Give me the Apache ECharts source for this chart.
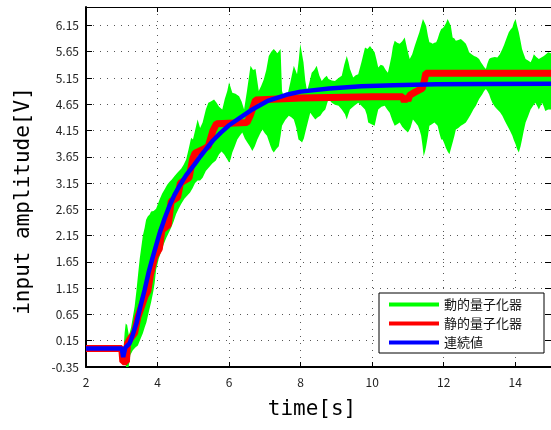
<!DOCTYPE html>
<html>
<head>
<meta charset="utf-8">
<script src="https://cdn.jsdelivr.net/npm/echarts@6/dist/echarts.min.js"></script>
<style>
html,body{margin:0;padding:0;background:#fff;}
#chart{width:551px;height:430px;}
</style>
</head>
<body>
<div id="chart"></div>
<script>
// 軸の目盛り
var xTicks = {min: 2, max: 15, step: 2};
var yTicks = {min: -0.35, max: 6.5, step: 0.5};
var seriesNames = ['動的量子化器', '静的量子化器', '連続値'];

// 動的量子化器: 振動の上側・下側の包絡 [t, v]
var greenUpper = [[3.05,0.0],[3.08,0.3],[3.11,0.48],[3.15,0.45],[3.20,0.25],[3.26,0.4],[3.31,0.6],[3.36,0.8],[3.41,1.1],[3.45,1.37],[3.50,1.7],[3.55,1.95],[3.59,2.15],[3.64,2.3],[3.68,2.45],[3.73,2.52],[3.78,2.55],[3.82,2.61],[3.89,2.62],[3.96,2.66],[4.01,2.75],[4.06,2.84],[4.13,2.95],[4.20,3.03],[4.27,3.12],[4.33,3.17],[4.40,3.22],[4.47,3.28],[4.56,3.35],[4.66,3.42],[4.73,3.5],[4.80,3.6],[4.87,3.8],[4.94,4.01],[4.99,3.98],[5.05,4.15],[5.12,4.36],[5.19,4.2],[5.26,4.3],[5.35,4.55],[5.42,4.68],[5.49,4.7],[5.58,4.74],[5.65,4.68],[5.72,4.6],[5.81,4.55],[5.88,4.75],[5.95,4.9],[6.00,5.07],[6.09,4.87],[6.18,4.85],[6.28,4.8],[6.35,4.7],[6.42,4.55],[6.50,4.9],[6.60,5.38],[6.67,5.3],[6.74,5.32],[6.83,4.9],[6.90,5.0],[6.97,5.12],[7.04,5.3],[7.11,5.57],[7.18,5.65],[7.25,5.7],[7.35,5.62],[7.44,5.7],[7.48,4.9],[7.57,4.7],[7.64,4.85],[7.71,5.06],[7.81,5.38],[7.90,5.22],[7.95,5.5],[7.99,5.8],[8.04,5.6],[8.08,5.45],[8.13,5.1],[8.18,4.9],[8.24,5.05],[8.31,5.25],[8.38,5.3],[8.45,5.38],[8.52,5.2],[8.59,5.09],[8.66,5.15],[8.73,5.19],[8.78,5.13],[8.87,5.1],[8.96,5.09],[9.06,5.15],[9.15,5.19],[9.22,5.4],[9.29,5.57],[9.34,5.45],[9.38,5.32],[9.47,5.16],[9.54,5.2],[9.61,5.22],[9.70,5.45],[9.80,5.73],[9.87,5.7],[9.94,5.76],[10.00,5.7],[10.07,5.64],[10.12,5.5],[10.17,5.35],[10.24,5.4],[10.31,5.38],[10.38,5.3],[10.44,5.25],[10.49,5.4],[10.54,5.57],[10.58,5.75],[10.63,5.86],[10.70,5.82],[10.77,5.8],[10.84,5.85],[10.91,5.92],[10.98,5.7],[11.05,5.51],[11.12,5.6],[11.19,5.76],[11.26,5.9],[11.32,6.02],[11.37,6.15],[11.42,6.27],[11.47,6.2],[11.51,6.14],[11.56,5.95],[11.60,5.83],[11.65,5.82],[11.69,5.8],[11.74,5.82],[11.79,5.83],[11.83,5.89],[11.88,6.0],[11.93,6.08],[11.98,6.1],[12.02,6.14],[12.07,6.2],[12.11,6.27],[12.16,6.2],[12.20,6.14],[12.25,5.92],[12.30,5.9],[12.34,5.86],[12.41,5.87],[12.48,5.89],[12.55,5.85],[12.62,5.8],[12.67,5.72],[12.71,5.64],[12.78,5.6],[12.85,5.57],[12.92,5.55],[12.99,5.51],[13.04,5.45],[13.08,5.41],[13.13,5.36],[13.18,5.32],[13.22,5.42],[13.27,5.51],[13.31,5.53],[13.36,5.54],[13.43,5.55],[13.50,5.54],[13.57,5.6],[13.64,5.7],[13.69,5.78],[13.73,5.86],[13.78,5.95],[13.82,6.02],[13.87,6.07],[13.92,6.11],[13.96,6.2],[14.01,6.27],[14.05,6.15],[14.10,6.02],[14.15,5.85],[14.19,5.7],[14.24,5.6],[14.29,5.51],[14.36,5.48],[14.43,5.45],[14.48,5.52],[14.52,5.6],[14.59,5.55],[14.66,5.51],[14.73,5.54],[14.80,5.57],[14.86,5.6],[14.92,5.64],[15.00,5.62]];
var greenLower = [[3.05,0.0],[3.08,-0.2],[3.12,-0.35],[3.19,-0.35],[3.24,-0.12],[3.31,-0.03],[3.38,0.02],[3.45,0.06],[3.52,0.18],[3.59,0.29],[3.64,0.4],[3.69,0.5],[3.75,0.68],[3.82,0.88],[3.88,1.08],[3.92,1.25],[3.96,1.5],[4.03,1.7],[4.10,1.85],[4.17,1.98],[4.24,2.1],[4.31,2.2],[4.38,2.3],[4.45,2.42],[4.52,2.56],[4.59,2.66],[4.66,2.75],[4.75,2.85],[4.84,2.92],[4.91,2.97],[4.98,3.05],[5.05,3.15],[5.12,3.2],[5.19,3.2],[5.26,3.25],[5.35,3.38],[5.44,3.45],[5.53,3.52],[5.63,3.58],[5.72,3.7],[5.79,3.75],[5.86,3.7],[5.93,3.62],[6.00,3.54],[6.04,3.6],[6.09,3.73],[6.16,3.85],[6.23,3.98],[6.30,4.05],[6.37,4.11],[6.44,4.0],[6.51,3.92],[6.58,3.85],[6.65,3.76],[6.72,3.85],[6.79,3.98],[6.86,4.08],[6.93,4.17],[7.00,4.1],[7.06,4.05],[7.11,3.95],[7.16,3.85],[7.20,3.78],[7.25,3.73],[7.32,3.8],[7.39,3.85],[7.44,4.05],[7.48,4.24],[7.57,4.35],[7.67,4.43],[7.74,4.4],[7.81,4.36],[7.88,4.2],[7.94,3.98],[8.00,3.95],[8.04,3.92],[8.09,4.0],[8.13,4.11],[8.20,4.3],[8.27,4.49],[8.34,4.42],[8.41,4.36],[8.48,4.4],[8.55,4.43],[8.62,4.5],[8.69,4.55],[8.78,4.75],[8.87,4.68],[8.96,4.64],[9.06,4.62],[9.15,4.55],[9.24,4.46],[9.29,4.36],[9.33,4.45],[9.38,4.55],[9.50,4.62],[9.61,4.68],[9.70,4.62],[9.80,4.55],[9.85,4.45],[9.89,4.3],[9.98,4.27],[10.07,4.24],[10.12,4.4],[10.17,4.55],[10.26,4.6],[10.35,4.62],[10.42,4.55],[10.49,4.49],[10.56,4.35],[10.63,4.24],[10.70,4.27],[10.77,4.3],[10.84,4.22],[10.91,4.17],[11.00,4.11],[11.07,4.2],[11.14,4.36],[11.21,4.3],[11.28,4.24],[11.33,4.15],[11.37,4.05],[11.41,3.85],[11.44,3.66],[11.48,3.75],[11.51,3.85],[11.56,4.05],[11.60,4.24],[11.67,4.27],[11.74,4.3],[11.79,4.27],[11.83,4.24],[11.88,4.1],[11.93,3.98],[11.97,3.98],[12.02,3.9],[12.06,3.82],[12.11,3.75],[12.16,3.7],[12.20,3.8],[12.25,3.92],[12.30,4.05],[12.34,4.17],[12.41,4.2],[12.48,4.24],[12.55,4.27],[12.62,4.3],[12.69,4.38],[12.76,4.46],[12.83,4.55],[12.90,4.62],[12.99,4.75],[13.08,4.84],[13.13,4.9],[13.18,4.94],[13.22,4.9],[13.27,4.84],[13.31,4.76],[13.36,4.68],[13.43,4.6],[13.50,4.55],[13.57,4.5],[13.64,4.43],[13.71,4.33],[13.78,4.24],[13.85,4.15],[13.92,4.05],[13.96,3.97],[14.01,3.89],[14.05,3.8],[14.10,3.73],[14.15,3.85],[14.19,3.98],[14.24,4.15],[14.29,4.3],[14.36,4.42],[14.43,4.55],[14.50,4.62],[14.56,4.68],[14.61,4.62],[14.66,4.55],[14.71,4.62],[14.75,4.68],[14.80,4.6],[14.84,4.52],[14.92,4.55],[15.00,4.55]];

// 静的量子化器 [t, v]
var redData = [[2,0],[3.0,0],[3.03,-0.25],[3.13,-0.25],[3.16,0.1],[3.25,0.2],[3.36,0.3],[3.45,0.6],[3.55,0.8],[3.65,1.0],[3.73,1.1],[3.8,1.4],[3.92,1.75],[4.05,1.9],[4.12,2.25],[4.3,2.35],[4.38,2.8],[4.56,2.88],[4.64,3.15],[4.88,3.25],[4.98,3.6],[5.05,3.72],[5.3,3.8],[5.42,3.85],[5.55,4.15],[5.65,4.28],[6.5,4.3],[6.6,4.45],[6.74,4.73],[8,4.77],[10,4.79],[10.85,4.79],[10.9,4.7],[10.95,4.8],[11.0,4.72],[11.05,4.82],[11.2,4.88],[11.4,4.95],[11.46,5.1],[11.5,5.24],[15,5.24]];

// 連続値 [t, v]
var blueData = [[2,0],[3.0,0],[3.04,-0.16],[3.1,0.02],[3.22,0.1],[3.3,0.25],[3.41,0.48],[3.52,0.8],[3.64,1.12],[3.75,1.45],[3.87,1.75],[4.06,2.2],[4.2,2.48],[4.33,2.71],[4.47,2.92],[4.61,3.09],[4.8,3.3],[5.03,3.5],[5.2,3.66],[5.35,3.79],[5.55,3.96],[5.77,4.11],[6.0,4.25],[6.28,4.38],[6.65,4.55],[7.1,4.72],[7.6,4.83],[8.0,4.89],[8.8,4.95],[9.7,4.99],[10.6,5.01],[11.8,5.03],[13,5.035],[15,5.04]];

var tickFont = {color: '#222', fontSize: 12, fontFamily: 'Noto Sans CJK JP'};
var gridLine = {type: [1, 6], color: '#555', width: 1};

function extend(a, b) {
    for (var k in b) { a[k] = b[k]; }
    return a;
}
function axisX(pos, main) {
    return {
        type: 'value', position: pos,
        min: xTicks.min, max: xTicks.max, interval: xTicks.step,
        axisLine: {onZero: false, lineStyle: {color: '#000', width: main ? 2 : 1}},
        axisTick: {inside: true, length: 5, lineStyle: {color: '#000'}},
        axisLabel: main ? extend({showMaxLabel: false, margin: 9}, tickFont) : {show: false},
        splitLine: {show: main, lineStyle: gridLine}
    };
}
function axisY(pos, main) {
    return {
        type: 'value', position: pos,
        min: yTicks.min, max: yTicks.max, interval: yTicks.step,
        axisLine: {onZero: false, lineStyle: {color: '#000', width: main ? 2 : 1}},
        axisTick: {inside: true, length: 6, lineStyle: {color: '#000'}},
        axisLabel: main ? extend({showMaxLabel: false, margin: 7, formatter: function (v) { return v.toFixed(2); }}, tickFont) : {show: false},
        splitLine: {show: main, lineStyle: gridLine}
    };
}

var option = {
    animation: false,
    grid: {left: 86, top: 7, right: -3, bottom: 63},
    xAxis: [axisX('bottom', true), axisX('top', false)],
    yAxis: [axisY('left', true), axisY('right', false)],
    legend: {
        left: 379, top: 293, orient: 'vertical', selectedMode: false,
        backgroundColor: '#fff', borderColor: '#000', borderWidth: 1,
        padding: [4, 22, 3, 10], itemGap: 4, itemWidth: 50, itemHeight: 4,
        textStyle: {fontFamily: 'Noto Sans CJK JP', fontSize: 13, color: '#111', lineHeight: 15},
        data: [
            {name: seriesNames[0], icon: 'rect', itemStyle: {color: '#00ff00'}},
            {name: seriesNames[1], icon: 'rect', itemStyle: {color: '#ff0000'}},
            {name: seriesNames[2], icon: 'rect', itemStyle: {color: '#0000ff'}}
        ]
    },
    graphic: [
        {type: 'text', x: 24, y: 201, rotation: Math.PI / 2,
         style: {text: 'input amplitude[V]', font: '21px "DejaVu Sans Mono"', align: 'center', verticalAlign: 'middle', fill: '#000'}},
        {type: 'text', x: 312, y: 410,
         style: {text: 'time[s]', font: '21px "DejaVu Sans Mono"', align: 'center', verticalAlign: 'middle', fill: '#000'}}
    ],
    series: [
        {
            name: seriesNames[0], type: 'custom', clip: true, silent: true,
            itemStyle: {color: '#00ff00'},
            data: [greenUpper[0]],
            renderItem: function (params, api) {
                var pts = [];
                for (var i = 0; i < greenUpper.length; i++) pts.push(api.coord(greenUpper[i]));
                for (var j = greenLower.length - 1; j >= 0; j--) pts.push(api.coord(greenLower[j]));
                return {type: 'polygon', shape: {points: pts}, style: {fill: '#00ff00'}};
            }
        },
        {
            name: seriesNames[1], type: 'line', data: redData, showSymbol: false, symbol: 'none',
            itemStyle: {color: '#ff0000'}, lineStyle: {color: '#ff0000', width: 7}
        },
        {
            name: seriesNames[2], type: 'line', data: blueData, showSymbol: false, symbol: 'none',
            itemStyle: {color: '#0000ff'}, lineStyle: {color: '#0000ff', width: 4.5}
        }
    ]
};

var myChart = echarts.init(document.getElementById('chart'));
myChart.setOption(option);
</script>
</body>
</html>
